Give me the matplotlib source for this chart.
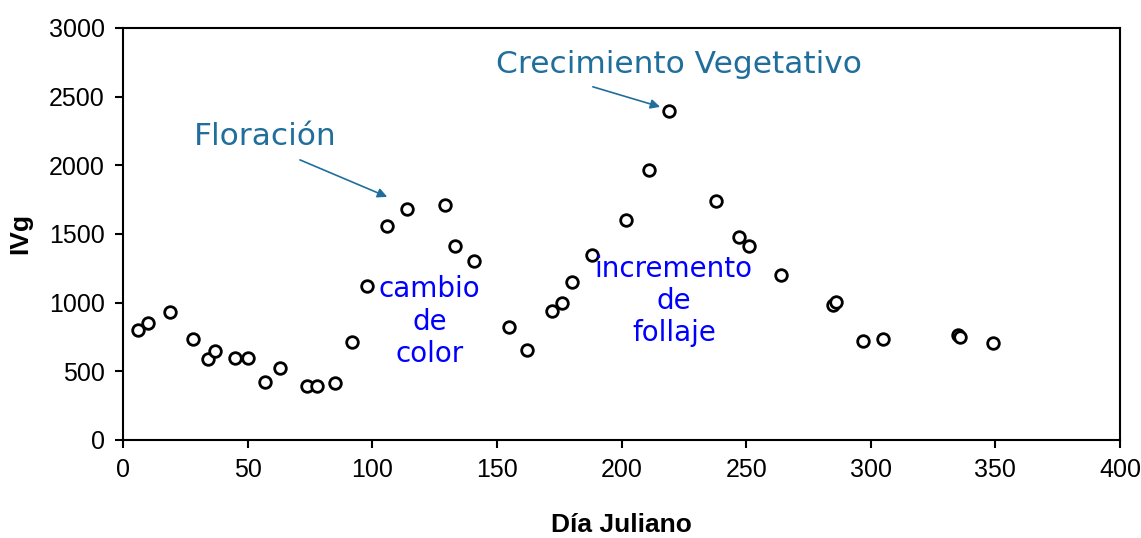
import matplotlib
matplotlib.use("Agg")
import matplotlib.pyplot as plt

dia = [6, 10, 19, 28, 34, 37, 45, 50, 57, 63, 74, 78, 85, 92, 98, 106, 114, 129,
       133, 141, 155, 162, 172, 176, 180, 188, 202, 211, 219, 238, 247, 251, 264,
       285, 286, 297, 305, 335, 336, 349]
ivg = [800, 855, 935, 735, 590, 645, 600, 600, 422, 525, 390, 390, 418, 710, 1122,
       1560, 1685, 1712, 1413, 1300, 825, 658, 940, 998, 1150, 1350, 1602, 1966,
       2396, 1742, 1480, 1413, 1203, 980, 1005, 717, 738, 762, 748, 708]

SANS = ['Liberation Sans', 'DejaVu Sans']
ANN = ['DejaVu Sans']

fig = plt.figure(figsize=(11.41, 5.38), dpi=100)
ax = fig.add_axes([0.1078, 0.1822, 0.8738, 0.766])
ax.scatter(dia, ivg, s=70, facecolors='white', edgecolors='black', linewidths=2, zorder=3)
ax.set_xlim(0, 400)
ax.set_ylim(0, 3000)
ax.set_xticks(range(0, 401, 50))
ax.set_yticks(range(0, 3001, 500))
tick_font = dict(family=SANS, size=18)
ax.set_xticklabels([str(v) for v in range(0, 401, 50)], **tick_font)
ax.set_yticklabels([str(v) for v in range(0, 3001, 500)], **tick_font)
for s in ax.spines.values():
    s.set_linewidth(1.5)
ax.tick_params(direction='out', length=6, width=1.5, pad=7)
ax.set_xlabel('Día Juliano', family=SANS, fontsize=19, fontweight='bold', labelpad=22)
ax.set_ylabel('IVg', family=SANS, fontsize=19, fontweight='bold', labelpad=12)

ann_col = '#1F6E9C'
ax.text(57, 2210, 'Floración', color=ann_col, fontsize=22.5, family=ANN,
        ha='center', va='center')
ax.text(223, 2735, 'Crecimiento Vegetativo', color=ann_col, fontsize=22.5, family=ANN,
        ha='center', va='center')
arrow = dict(arrowstyle='-|>', color=ann_col, lw=1.2, shrinkA=0, shrinkB=0,
             mutation_scale=14)
ax.annotate('', xy=(106, 1770), xytext=(71, 2039), arrowprops=arrow)
ax.annotate('', xy=(215.5, 2425), xytext=(188.5, 2571), arrowprops=arrow)

ax.text(123, 860, 'cambio\nde\ncolor', color='#0000FF', fontsize=20, family=ANN,
        ha='center', va='center', linespacing=1.2)
ax.text(221, 1012, 'incremento\nde\nfollaje', color='#0000FF', fontsize=20, family=ANN,
        ha='center', va='center', linespacing=1.2)

fig.savefig('out.png', dpi=100)
